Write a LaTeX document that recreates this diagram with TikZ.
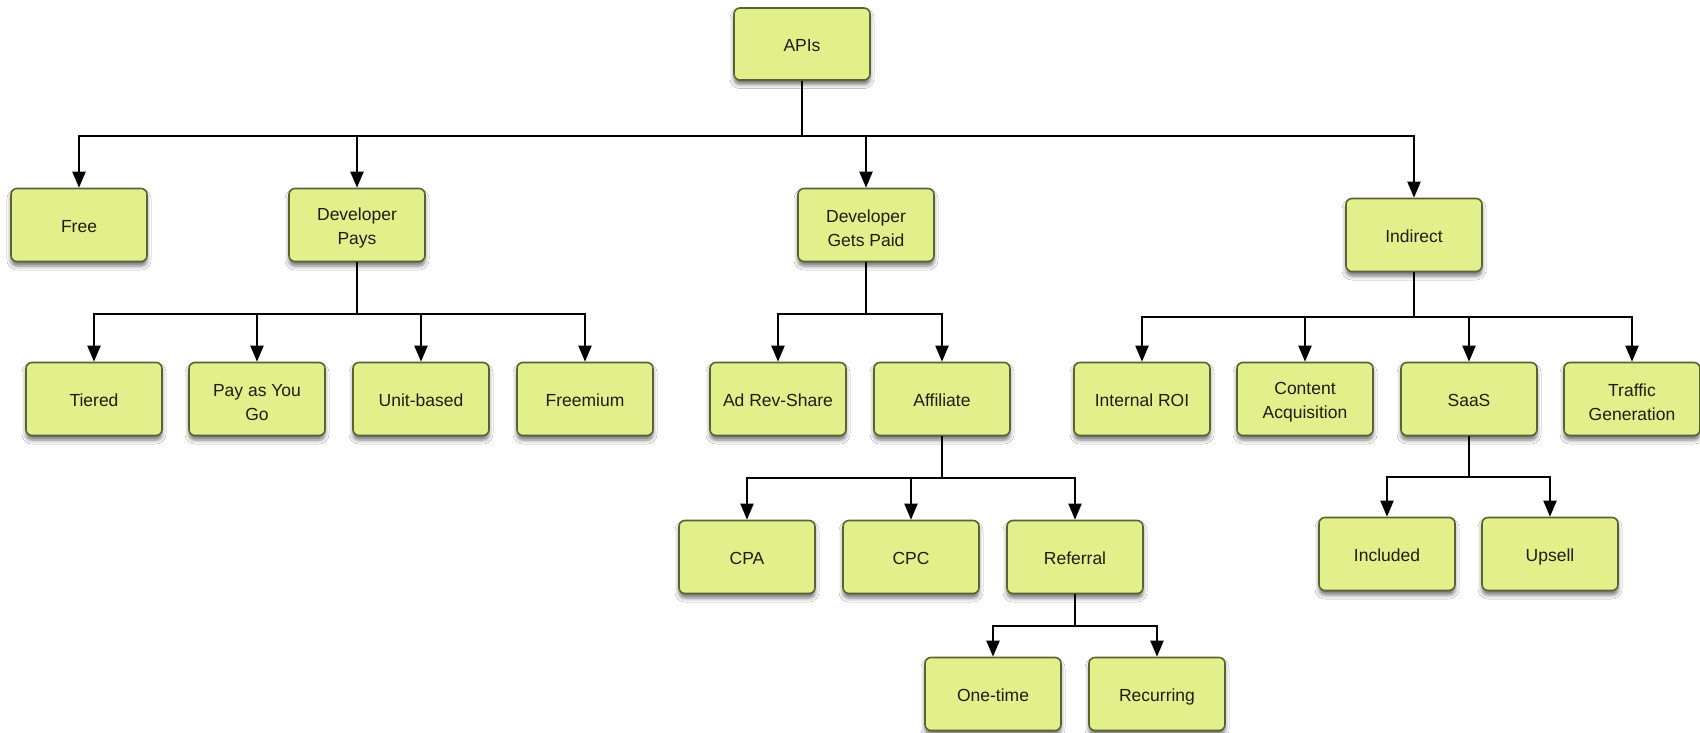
\documentclass[tikz,border=0pt]{standalone}
\usepackage{fontspec}
\setmainfont{Liberation Sans}
\usetikzlibrary{arrows.meta,shadows,shadows.blur}
\definecolor{boxfill}{RGB}{226,239,138}
\definecolor{boxline}{RGB}{88,98,52}
\definecolor{txt}{RGB}{30,30,20}
\newcommand{\tallstrut}{\rule{0pt}{19pt}}
\begin{document}
\begin{tikzpicture}[x=1pt,y=-1pt,
  box/.style={draw=boxline, line width=1.6pt, fill=boxfill, rounded corners=6pt,
    minimum width=136pt, minimum height=73pt, align=center, text=txt,
    font=\fontsize{17.5}{23.5}\selectfont, inner sep=0pt,
    blur shadow={shadow xshift=0pt, shadow yshift=-4.5pt, shadow blur radius=4pt, shadow opacity=55}},
  one/.style={text height=17pt, text depth=2pt},
  conn/.style={line width=2pt, draw=black},
  arr/.style={conn, -{Triangle[width=13pt,length=16pt]}}]
\fill[white] (0,0) rectangle (1700,733);
\useasboundingbox (0,0) rectangle (1700,733);
% bus levels
\coordinate (busA) at (0,136);
\coordinate (busDP) at (0,314);
\coordinate (busDGP) at (0,314);
\coordinate (busInd) at (0,317);
\coordinate (busAff) at (0,478);
\coordinate (busRef) at (0,626);
\coordinate (busSaaS) at (0,477);
% nodes
\node[box, one, minimum height=72pt] (apis) at (802,44) {APIs};
\node[box, one] (free) at (79,225) {Free};
\node[box] (dp) at (357,225) {\tallstrut Developer\\Pays};
\node[box] (dgp) at (866,225) {\tallstrut Developer\\Gets Paid};
\node[box, one] (ind) at (1414,235) {Indirect};
\node[box, one] (tiered) at (94,399) {Tiered};
\node[box] (payg) at (257,399) {\tallstrut Pay as You\\Go};
\node[box, one] (unit) at (421,399) {Unit-based};
\node[box, one] (freemium) at (585,399) {Freemium};
\node[box, one] (adrev) at (778,399) {Ad Rev-Share};
\node[box, one] (aff) at (942,399) {Affiliate};
\node[box, one] (iroi) at (1142,399) {Internal ROI};
\node[box] (content) at (1305,399) {\tallstrut Content\\Acquisition};
\node[box, one] (saas) at (1469,399) {SaaS};
\node[box] (traffic) at (1632,399) {\tallstrut Traffic\\Generation};
\node[box, one] (cpa) at (747,557) {CPA};
\node[box, one] (cpc) at (911,557) {CPC};
\node[box, one] (ref) at (1075,557) {Referral};
\node[box, one] (incl) at (1387,554) {Included};
\node[box, one] (upsell) at (1550,554) {Upsell};
\node[box, one] (onetime) at (993,694) {One-time};
\node[box, one] (recur) at (1157,694) {Recurring};
% connectors
\foreach \c in {free,dp,dgp,ind}
  \draw[arr] (apis.south) |- (\c.north |- busA) -- (\c.north);
\foreach \c in {tiered,payg,unit,freemium}
  \draw[arr] (dp.south) |- (\c.north |- busDP) -- (\c.north);
\foreach \c in {adrev,aff}
  \draw[arr] (dgp.south) |- (\c.north |- busDGP) -- (\c.north);
\foreach \c in {iroi,content,saas,traffic}
  \draw[arr] (ind.south) |- (\c.north |- busInd) -- (\c.north);
\foreach \c in {cpa,cpc,ref}
  \draw[arr] (aff.south) |- (\c.north |- busAff) -- (\c.north);
\foreach \c in {onetime,recur}
  \draw[arr] (ref.south) |- (\c.north |- busRef) -- (\c.north);
\foreach \c in {incl,upsell}
  \draw[arr] (saas.south) |- (\c.north |- busSaaS) -- (\c.north);
\end{tikzpicture}
\end{document}
